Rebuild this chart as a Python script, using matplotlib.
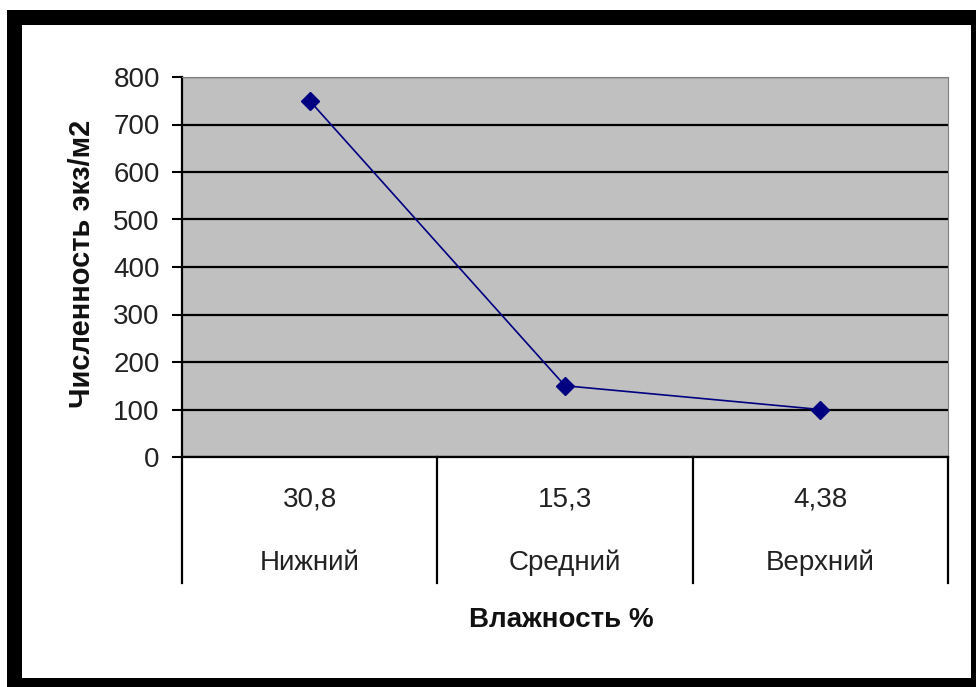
import matplotlib.pyplot as plt
from matplotlib.patches import Rectangle
from matplotlib.transforms import blended_transform_factory

# data
humidity = ["30,8", "15,3", "4,38"]
layers = ["Нижний", "Средний", "Верхний"]
counts = [750, 150, 100]
y_ticks = [0, 100, 200, 300, 400, 500, 600, 700, 800]

plt.rcParams['font.family'] = ['Liberation Sans', 'DejaVu Sans']

W, H = 976, 687


def box(x0, y0, x1, y1, color):
    # rectangle given in pixel coords from the top-left corner
    return Rectangle((x0 / W, 1 - y1 / H), (x1 - x0) / W, (y1 - y0) / H,
                     transform=fig.transFigure, facecolor=color,
                     edgecolor='none', zorder=-10)


fig = plt.figure(figsize=(W / 100, H / 100), dpi=100)
fig.patch.set_facecolor('white')

# black frame round the chart
fig.patches.append(box(7, 10, 976, 687, 'black'))
fig.patches.append(box(22, 25, 971, 678, 'white'))

ax = fig.add_axes([182 / W, 1 - 457 / H, 766 / W, 380 / H])
ax.set_facecolor('#c0c0c0')

x = list(range(len(counts)))
ax.plot(x, counts, color='#000080', linewidth=1.2, marker='D',
        markersize=9.5, markerfacecolor='#000080', markeredgecolor='#000080',
        zorder=3)

ax.set_xlim(-0.5, len(counts) - 0.5)
ax.set_ylim(0, 800)
ax.set_yticks(y_ticks)
ax.tick_params(axis='y', labelsize=20, length=7, width=1.5, pad=9,
               color='black', labelcolor='#222222')
ax.set_xticks([])
for v in y_ticks:
    ax.axhline(v, color='black', linewidth=1.6, zorder=1)

for side in ['top', 'right']:
    ax.spines[side].set_color('#808080')
ax.spines['left'].set_linewidth(1.6)
ax.spines['bottom'].set_linewidth(1.6)

# two-level category axis
tr = blended_transform_factory(ax.transData, ax.transAxes)
for i in range(len(counts) + 1):
    ax.plot([i - 0.5, i - 0.5], [0, -0.332], color='black', linewidth=1.6,
            transform=tr, clip_on=False)
for i in range(len(counts)):
    ax.text(i, -0.113, humidity[i], transform=tr, ha='center', va='center',
            fontsize=20, color='#222222')
    ax.text(i, -0.279, layers[i], transform=tr, ha='center', va='center',
            fontsize=20, color='#222222')

fig.text(561 / W, 1 - 620 / H, "Влажность %", ha='center', va='center',
         fontsize=20, fontweight='bold', color='#111111')
fig.text(82 / W, 1 - 264 / H, "Численность экз/м2", ha='center',
         va='center', rotation=90, fontsize=21, fontweight='bold',
         color='#111111')

plt.savefig("out.png", dpi=100)
